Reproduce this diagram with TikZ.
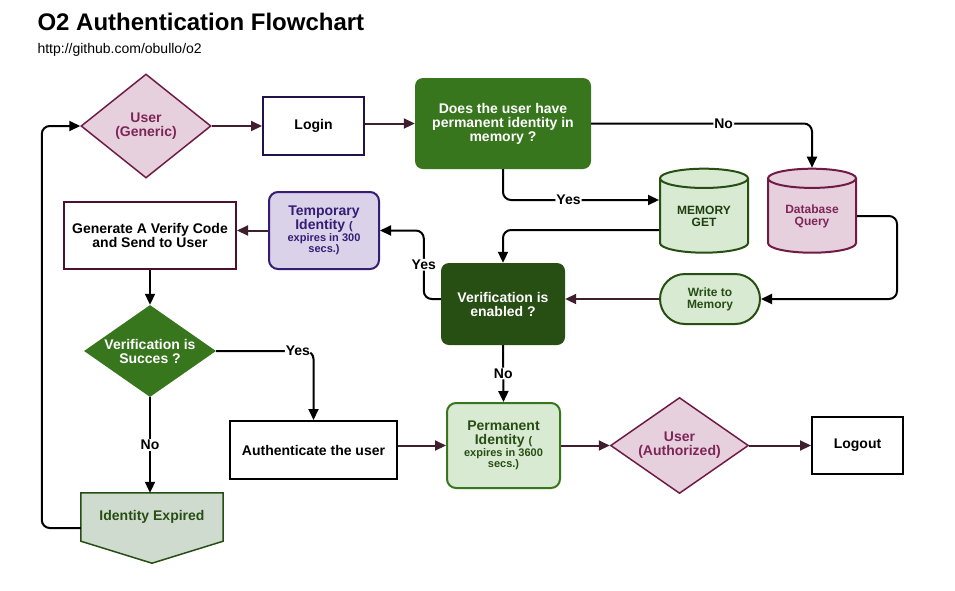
\documentclass[tikz,border=0pt]{standalone}
\usepackage{fontspec}
\setmainfont{Liberation Sans}
\usetikzlibrary{shapes.geometric,arrows.meta,backgrounds}
\definecolor{pinkfill}{HTML}{E6D0DE}
\definecolor{pinkline}{HTML}{6F1B45}
\definecolor{pinktext}{HTML}{7E2557}
\definecolor{grn}{HTML}{38761D}
\definecolor{dkgrn}{HTML}{274E13}
\definecolor{ltgrn}{HTML}{D9EAD3}
\definecolor{ltprp}{HTML}{D9D2E9}
\definecolor{prp}{HTML}{351C75}
\definecolor{navy}{HTML}{20124D}
\definecolor{wine}{HTML}{4C1130}
\definecolor{plum}{HTML}{3F1F2E}
\definecolor{expfill}{HTML}{D0DBD0}
\newcommand{\fsz}[1]{\fontsize{#1}{#1}\selectfont}
\begin{document}
\begin{tikzpicture}[x=1pt,y=-1pt,
		user/.style={diamond,draw=pinkline,fill=pinkfill,line width=1.5pt,text=pinktext,inner sep=0pt,font=\bfseries\fsz{14},align=center},
		plain/.style={draw,line width=2pt,fill=white,inner sep=2pt,font=\bfseries\fsz{14},align=center},
		query/.style={rounded corners=8pt,text=white,font=\bfseries\fsz{14},align=center},
		cyl/.style={cylinder,shape border rotate=90,aspect=0.36,line width=2pt,minimum width=88pt,minimum height=84pt,inner sep=0pt,font=\bfseries\fsz{12},align=center},
		ident/.style={rounded corners=9pt,line width=2pt,inner sep=0pt,font=\bfseries\fsz{14},align=center},
		lbl/.style={fill=white,inner sep=1pt,font=\bfseries\fsz{14}},
		barrow/.style={line width=2pt,-{Triangle[length=11pt,width=10pt]},rounded corners=8pt},
		marrow/.style={line width=2pt,draw=plum,-{Triangle[length=11pt,width=10pt,fill=plum]}}]
	\useasboundingbox (0,0) rectangle (955,590);
	\node[anchor=base west,font=\bfseries\fsz{24}] (TT) at (34,30) {O2 Authentication Flowchart};
	\node[anchor=base west,font=\fsz{14}] (UR) at (34,53) {http://github.com/obullo/o2};

	\node[user,aspect=1.25,minimum width=130pt,minimum height=104pt] (UG) at (146,126) {User\\(Generic)};
	\node[plain,draw=navy,minimum width=101pt,minimum height=58pt] (LO) at (313.5,126) {Login};
	\node[query,fill=grn,minimum width=176pt,minimum height=91pt] (PQ) at (503,123.5) {Does the user have\\permanent identity in\\memory ?};
	\node[cyl,draw=dkgrn,fill=ltgrn,text=dkgrn!80!black] (MG) at (704,216) {MEMORY\\GET};
	\node[cyl,draw=pinkline,fill=pinkfill,text=pinktext] (DB) at (812,216) {Database\\Query};
	\node[ident,rounded corners=25pt,draw=dkgrn,fill=ltgrn,text=dkgrn,font=\bfseries\fsz{12},minimum width=100pt,minimum height=50pt] (WM) at (710,299) {Write to\\Memory};
	\node[query,fill=dkgrn,minimum width=124pt,minimum height=82pt] (VE) at (503,304) {Verification is\\enabled ?};
	\node[ident,draw=prp,fill=ltprp,text=prp,minimum width=110pt,minimum height=77pt] (TI) at (324,230.5) {Temporary\\Identity {\fsz{11}(}\\[-2pt]{\fsz{11}expires in 300}\\[-3pt]{\fsz{11}secs.)}};
	\node[plain,draw=wine,minimum width=172pt,minimum height=67pt] (GV) at (150,235.5) {Generate A Verify Code\\and Send to User};
	\node[diamond,aspect=1.43,fill=grn,text=white,inner sep=0pt,font=\bfseries\fsz{14},align=center,minimum width=132pt,minimum height=92pt] (VS) at (150,351) {Verification is\\Succes ?};
	\node[plain,minimum width=167pt,minimum height=58pt] (AU) at (313.5,450) {Authenticate the user};
	\node[ident,draw=grn,fill=ltgrn,text=dkgrn,minimum width=113pt,minimum height=85pt] (PI) at (503.5,445.5) {Permanent\\Identity {\fsz{11}(}\\[-2pt]{\fsz{11}expires in 3600}\\[-3pt]{\fsz{11}secs.)}};
	\node[user,aspect=1.44,minimum width=138pt,minimum height=96pt] (UA) at (679.5,445.5) {User\\(Authorized)};
	\node[plain,minimum width=91pt,minimum height=57pt] (LG) at (857.5,445.5) {Logout};
	\node[text=dkgrn,font=\bfseries\fsz{14},inner sep=0pt,text height=10pt,text depth=26pt,minimum width=142pt,minimum height=70pt] (IE) at (152,528) {Identity Expired};
	\begin{pgfonlayer}{background}
		\draw[line width=1.5pt,draw=dkgrn,fill=expfill] (IE.north west) -- (IE.north east) -- ([yshift=22pt]IE.south east) -- (IE.south) -- ([yshift=22pt]IE.south west) -- cycle;
	\end{pgfonlayer}

	\draw[marrow] (UG.east) -- (LO.west);
	\draw[marrow] (LO.east |- PQ.west) -- (PQ.west);
	\draw[barrow] (PQ.east) -| node[lbl,pos=.3]{No} (DB.north);
	\draw[barrow] (PQ.south) |- node[lbl,pos=.71]{Yes} ([yshift=16pt]MG.west);
	\draw[barrow] ([yshift=-14pt]MG.west) -| (VE.north);
	\draw[barrow] (DB.east) -- ++(40,0) |- (WM.east);
	\draw[marrow] (WM.west) -- (VE.east |- WM.west);
	\draw[barrow] ([yshift=5pt]VE.west) -- ++(-17,0) |- node[lbl,pos=.25]{Yes} (TI.east);
	\draw[marrow] (TI.west) -- (GV.east |- TI.west);
	\draw[barrow] (GV.south) -- (VS.north);
	\draw[barrow] (VS.east) -| node[lbl,pos=.42]{Yes} (AU.north);
	\draw[barrow] (VS.south) -- node[lbl]{No} (VS.south |- IE.north);
	\draw[barrow] (IE.west) -- ++(-39,0) |- (UG.west);
	\draw[barrow] (VE.south) -- node[lbl]{No} (PI.north);
	\draw[marrow] (AU.east |- PI.west) -- (PI.west);
	\draw[marrow] (PI.east) -- (UA.west);
	\draw[marrow] (UA.east) -- (LG.west);
\end{tikzpicture}
\end{document}
